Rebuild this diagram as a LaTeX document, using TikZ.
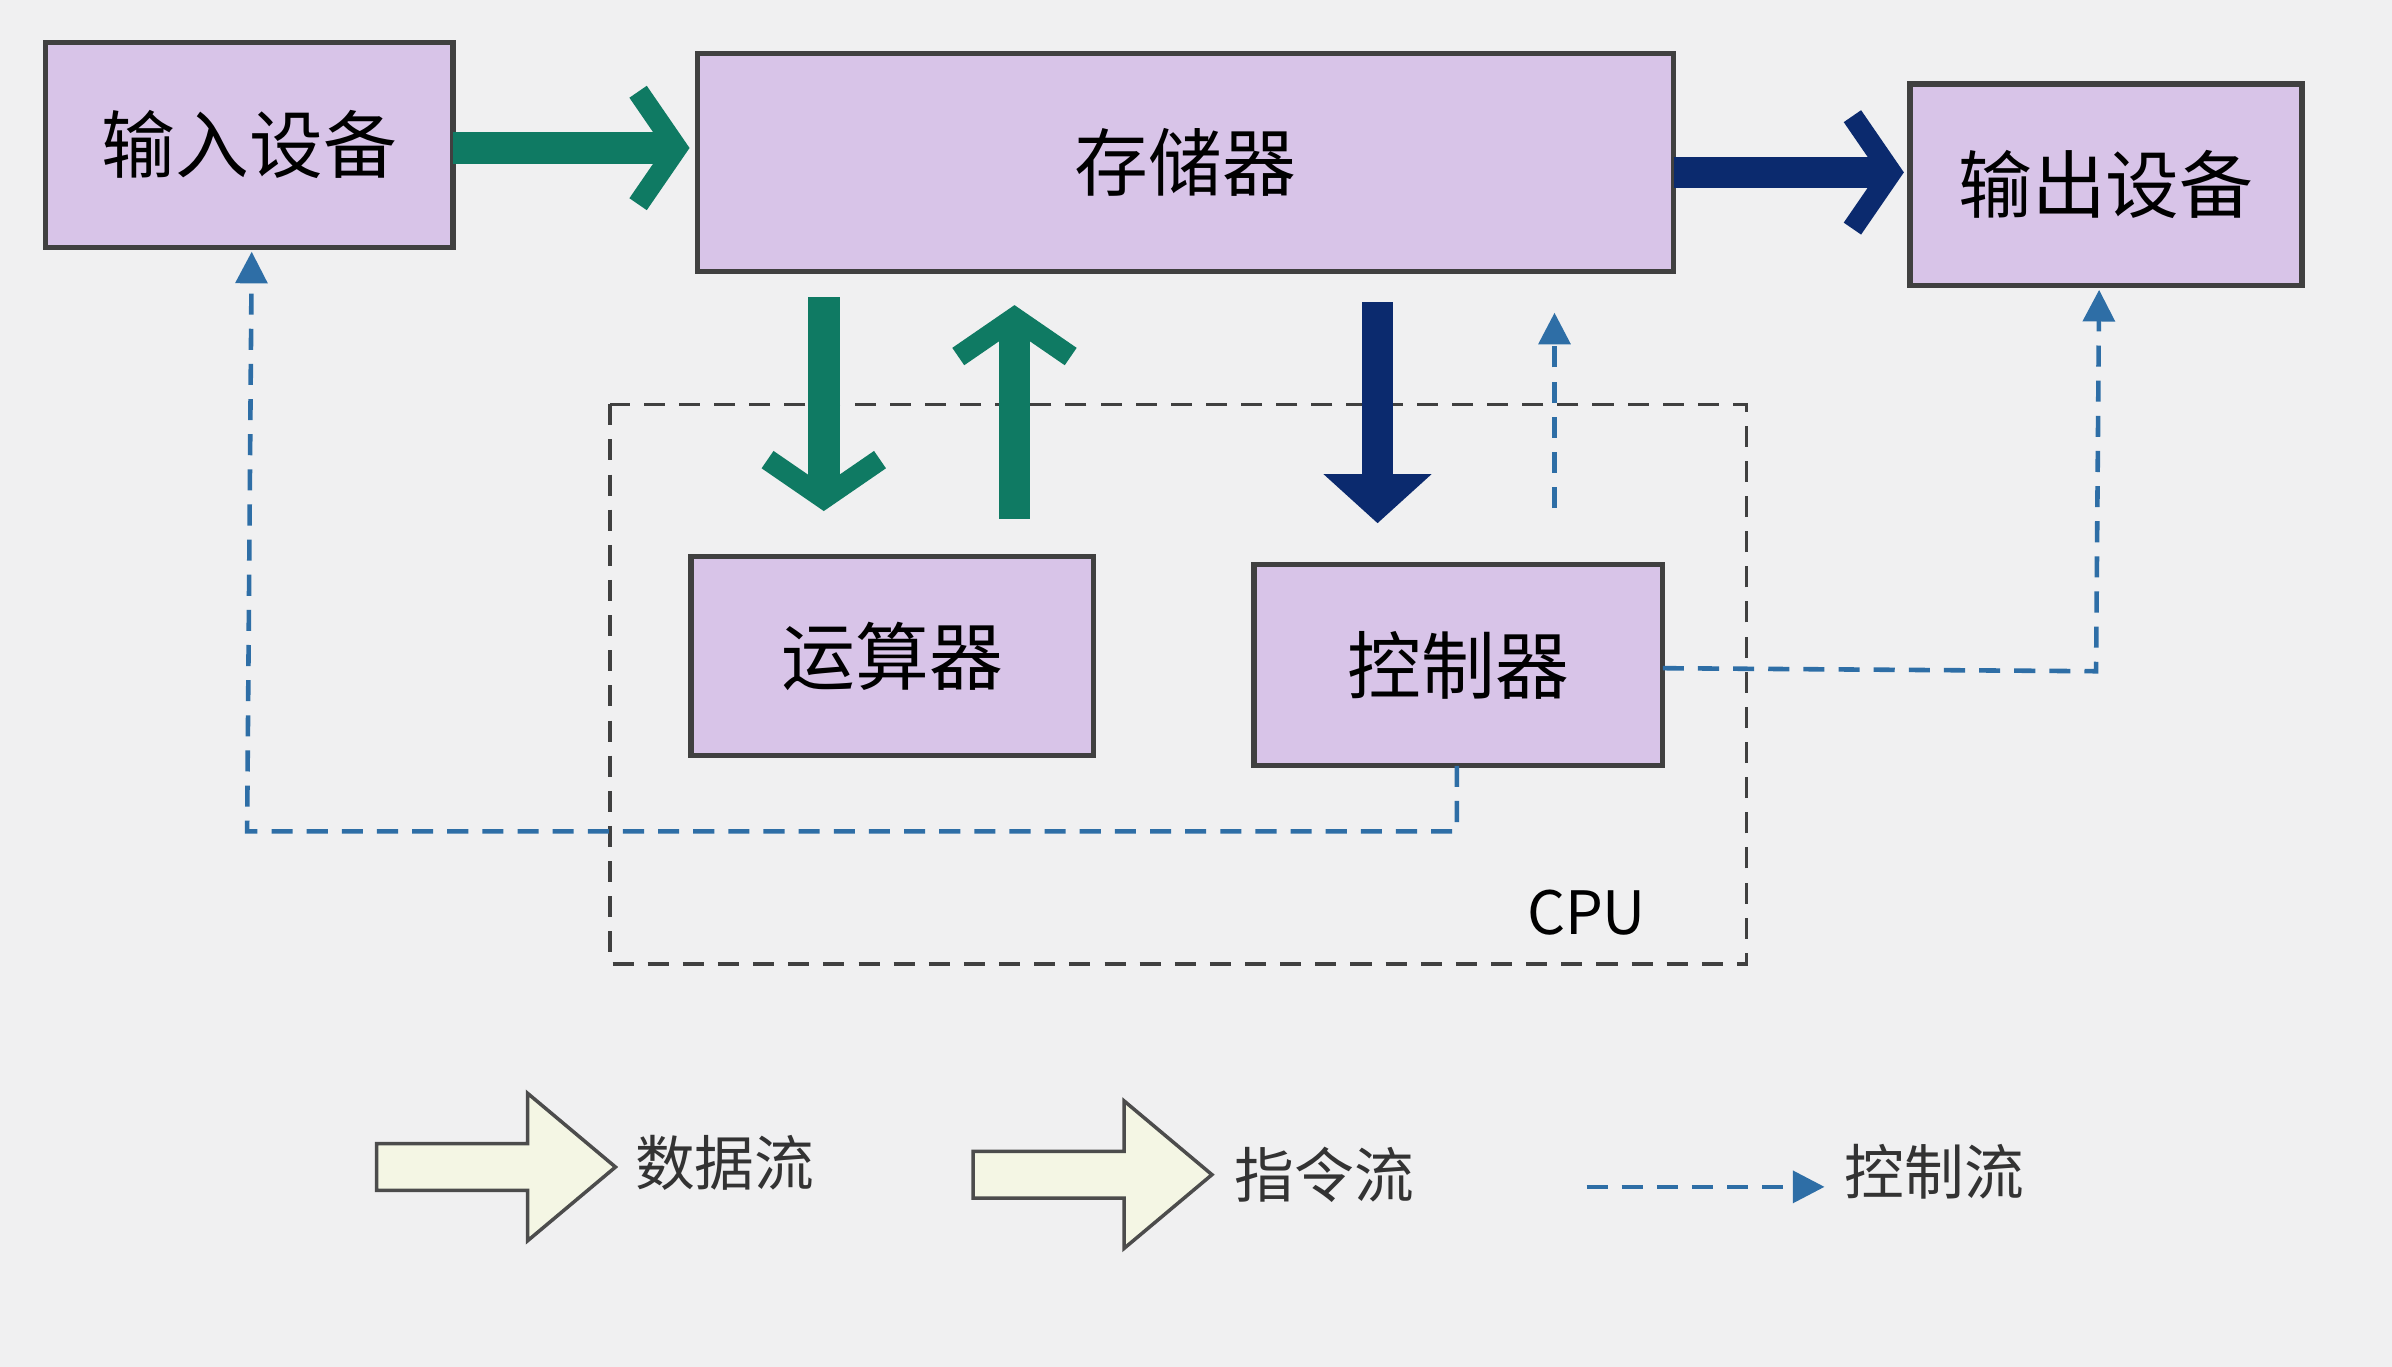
\documentclass[tikz,border=0pt]{standalone}
\usepackage{fontspec}
\newfontfamily\cjk{Noto Sans CJK SC}
\usetikzlibrary{arrows.meta,shapes.arrows}
\definecolor{bgc}{HTML}{F0F0F1}
\definecolor{boxc}{HTML}{D8C4E8}
\definecolor{datac}{HTML}{0F7A63}
\definecolor{instc}{HTML}{0B2A6E}
\definecolor{ctrlc}{HTML}{2E6EA6}
\definecolor{legc}{HTML}{F4F6E4}
\tikzset{
    unit/.style={draw=black!75,line width=1.5pt,fill=boxc,font=\cjk\fontsize{21}{25}\selectfont},
    dataflow/.style={datac,line width=9pt,-{Straight Barb[length=11pt,width=32pt,line width=6pt]}},
    instflow/.style={instc,line width=9pt,-{Straight Barb[length=11pt,width=32pt,line width=6pt]}},
    ctrlflow/.style={ctrlc,line width=1.3pt,dash pattern=on 6pt off 4pt,-{Triangle[length=9pt,width=9pt]}},
    legarrow/.style={single arrow,draw=black!70,line width=1pt,fill=legc,minimum height=68pt,
        minimum width=42pt,single arrow head extend=14pt,single arrow tip angle=80,inner sep=6pt},
    legtext/.style={font=\cjk\fontsize{17}{20}\selectfont,text=black!80}
}
\begin{document}
\begin{tikzpicture}[x=0.01526cm,y=-0.01526cm]
    \fill[bgc] (0,0) rectangle (1568,896);
    \useasboundingbox (0,0) rectangle (1568,896);
    % units
    \draw[unit] (30,28) rectangle (297,162) node[midway] (in) {输入设备};
    \draw[unit] (457,35) rectangle (1097,178) node[midway] (mem) {存储器};
    \draw[unit] (1252,55) rectangle (1509,187) node[midway] (out) {输出设备};
    \draw[unit] (453,365) rectangle (717,495) node[midway] (alu) {运算器};
    \draw[unit] (822,370) rectangle (1090,502) node[midway] (cu) {控制器};
    % cpu
    \draw[black!75,line width=1pt,dash pattern=on 6pt off 4pt] (400,265) rectangle (1145,632);
    \node[font=\cjk\fontsize{17}{20}\selectfont] (cpu) at (1040,598) {CPU};
    % data and instruction flows
    \coordinate (a1) at (297,97);  \coordinate (a2) at (452,97);
    \coordinate (b1) at (540,195); \coordinate (b2) at (540,335);
    \coordinate (c1) at (665,340); \coordinate (c2) at (665,200);
    \coordinate (d1) at (1097,113); \coordinate (d2) at (1248,113);
    \coordinate (e1) at (903,198); \coordinate (e2) at (903,343);
    \draw[dataflow] (a1) -- (a2);
    \draw[dataflow] (b1) -- (b2);
    \draw[dataflow] (c1) -- (c2);
    \draw[instflow] (d1) -- (d2);
    \draw[instc,line width=9pt,-{Triangle[length=14pt,width=30pt]}] (e1) -- (e2);
    % control flows
    \coordinate (f1) at (955,502);
    \coordinate (f2) at (165,165);
    \draw[ctrlflow] (f1) |- (162,545) -- (f2);
    \coordinate (g1) at (1090,438);
    \coordinate (g2) at (1376,190);
    \draw[ctrlflow] (g1) -- (1374,440) -- (g2);
    \coordinate (h1) at (1019,333);
    \coordinate (h2) at (1019,205);
    \draw[ctrlflow] (h1) -- (h2);
    % legend
    \node[legarrow] (l1) at (316,765) {};
    \node[legtext] (l1t) at (475,762) {数据流};
    \node[legarrow] (l2) at (707,770) {};
    \node[legtext] (l2t) at (868,770) {指令流};
    \coordinate (l3a) at (1040,778);
    \coordinate (l3b) at (1196,778);
    \draw[ctrlflow] (l3a) -- (l3b);
    \node[legtext] (l3t) at (1268,768) {控制流};
\end{tikzpicture}
\end{document}
